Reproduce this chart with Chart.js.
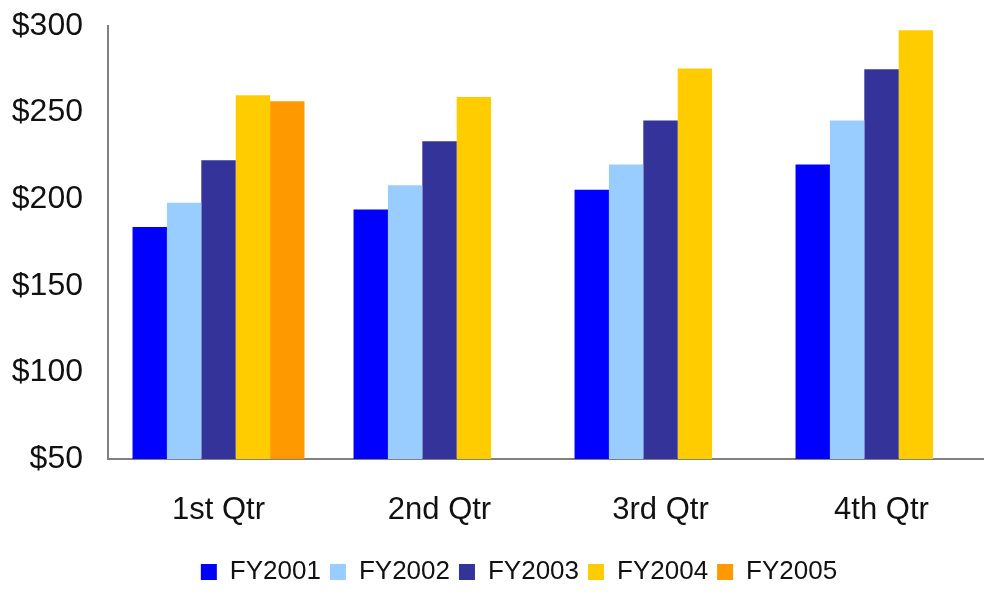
<!DOCTYPE html>
<html>
<head>
<meta charset="utf-8">
<title>Quarterly revenue by fiscal year</title>
<script src="https://cdn.jsdelivr.net/npm/chart.js@4/dist/chart.umd.min.js"></script>
<style>
  html, body { margin: 0; padding: 0; background: #ffffff; overflow: hidden; }
  #wrap { width: 1000px; height: 595px; }
  canvas { display: block; }
</style>
</head>
<body>
<div id="wrap"><canvas id="chart" width="1000" height="595"></canvas></div>
<script>
// Quarters on the category axis
const quarters = ['1st Qtr', '2nd Qtr', '3rd Qtr', '4th Qtr'];

// Revenue per quarter, one array per fiscal year (FY2005 has only Q1 so far)
const fy2001 = [184, 194, 205.5, 220];
const fy2002 = [198, 208, 220, 245.5];
const fy2003 = [222.5, 233.5, 245.5, 275];
const fy2004 = [260, 259, 275.5, 297.5];
const fy2005 = [256.5, null, null, null];

const seriesNames = ['FY2001', 'FY2002', 'FY2003', 'FY2004', 'FY2005'];
const seriesValues = [fy2001, fy2002, fy2003, fy2004, fy2005];
const seriesColors = ['#0000ff', '#99ccff', '#333399', '#ffcc00', '#ff9900'];

// Value axis ticks
const yTickValues = [50, 100, 150, 200, 250, 300];

const FONT = '"Liberation Sans", Arial, Helvetica, sans-serif';
const AXIS_GREY = '#808080';

Chart.defaults.font.family = FONT;
Chart.defaults.color = '#111111';

const datasets = seriesNames.map((name, i) => ({
  label: name,
  data: seriesValues[i],
  backgroundColor: seriesColors[i],
  borderWidth: 0,
  categoryPercentage: 0.778,
  barPercentage: 1.0
}));

// Nudges the legend row to the right of the canvas centre
const legendOffset = {
  id: 'legendOffset',
  afterLayout(chart) {
    const lg = chart.legend;
    if (lg) {
      lg.left += 23;
      lg.right += 23;
    }
  }
};

new Chart(document.getElementById('chart'), {
  type: 'bar',
  data: { labels: quarters, datasets: datasets },
  plugins: [legendOffset],
  options: {
    responsive: false,
    animation: false,
    layout: { padding: { top: 26, left: 0, right: 8, bottom: 0 } },
    plugins: {
      tooltip: { enabled: false },
      legend: {
        position: 'bottom',
        align: 'center',
        labels: {
          boxWidth: 16,
          boxHeight: 16,
          padding: 9,
          color: '#111111',
          font: { size: 26, family: FONT }
        }
      }
    },
    scales: {
      x: {
        grid: { display: false, drawTicks: false },
        border: { display: true, color: AXIS_GREY, width: 2 },
        ticks: {
          padding: 33,
          maxRotation: 0,
          autoSkip: false,
          color: '#111111',
          font: { size: 31, family: FONT }
        },
        afterFit: (scale) => {
          scale.height = 91;
          scale.paddingLeft = 0;
          scale.paddingRight = 0;
        }
      },
      y: {
        min: 50,
        max: 300,
        grid: { display: false, drawTicks: false },
        border: { display: true, color: AXIS_GREY, width: 2 },
        afterBuildTicks: (scale) => {
          scale.ticks = yTickValues.map(v => ({ value: v }));
        },
        ticks: {
          padding: 25,
          color: '#111111',
          font: { size: 32, family: FONT },
          callback: (value) => '$' + value
        },
        afterFit: (scale) => {
          scale.width = 108;
          scale.paddingTop = 0;
          scale.paddingBottom = 0;
        }
      }
    }
  }
});
</script>
</body>
</html>
